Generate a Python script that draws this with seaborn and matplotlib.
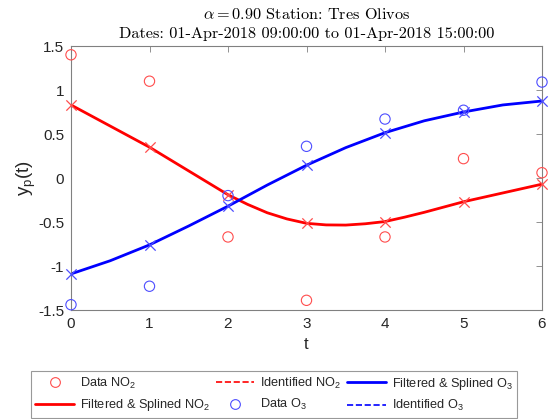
import numpy as np
import pandas as pd
import matplotlib
matplotlib.use("Agg")
import matplotlib.pyplot as plt
import seaborn as sns
from matplotlib.lines import Line2D

# -------------------------------
# Data
# -------------------------------
t_data = [0, 1, 2, 3, 4, 5, 6]
no2_data = [1.40, 1.10, -0.67, -1.39, -0.67, 0.22, 0.06]
o3_data = [-1.44, -1.23, -0.20, 0.36, 0.67, 0.77, 1.09]

no2_ident = [0.83, 0.35, -0.19, -0.515, -0.495, -0.27, -0.07]
o3_ident = [-1.09, -0.76, -0.32, 0.145, 0.515, 0.75, 0.875]

# filtered & splined curves, read at a finer step
t_no2_sp = [0, 0.5, 1, 1.5, 2, 2.25, 2.5, 2.75, 3, 3.25, 3.5, 3.75, 4,
            4.25, 4.5, 4.75, 5, 5.5, 6]
no2_spline = [0.83, 0.59, 0.35, 0.08, -0.19, -0.30, -0.395, -0.465, -0.515,
              -0.533, -0.535, -0.52, -0.495, -0.445, -0.39, -0.33, -0.27,
              -0.17, -0.07]
t_o3_sp = [0, 0.5, 1, 1.5, 2, 2.5, 3, 3.5, 4, 4.5, 5, 5.5, 6]
o3_spline = [-1.09, -0.94, -0.76, -0.545, -0.32, -0.08, 0.145, 0.345, 0.515,
             0.65, 0.75, 0.83, 0.875]

xticks = [0, 1, 2, 3, 4, 5, 6]
yticks = [-1.5, -1, -0.5, 0, 0.5, 1, 1.5]

# -------------------------------
# Setup
# -------------------------------
sns.set_style("white")
plt.rcParams['font.family'] = ['Liberation Sans', 'DejaVu Sans']
plt.rcParams['mathtext.fontset'] = 'custom'
plt.rcParams['mathtext.rm'] = 'Liberation Sans'
plt.rcParams['mathtext.it'] = 'Liberation Sans'

RED = '#ff0000'
BLUE = '#0000ff'
RED_M = '#ff4d4d'
BLUE_M = '#4d4dff'
AX = '#262626'

fig = plt.figure(figsize=(5.49, 4.19), dpi=100)
ax = fig.add_axes([71 / 549, 1 - 310 / 419, 471 / 549, 264 / 419])

df_data = pd.DataFrame({'t': t_data, 'no2': no2_data, 'o3': o3_data})
df_id = pd.DataFrame({'t': t_data, 'no2': no2_ident, 'o3': o3_ident})
df_no2 = pd.DataFrame({'t': t_no2_sp, 'y': no2_spline})
df_o3 = pd.DataFrame({'t': t_o3_sp, 'y': o3_spline})

# filtered & splined
sns.lineplot(data=df_no2, x='t', y='y', ax=ax, color=RED, lw=2)
sns.lineplot(data=df_o3, x='t', y='y', ax=ax, color=BLUE, lw=2)

# identified values at sample times
sns.scatterplot(data=df_id, x='t', y='no2', ax=ax, marker='x', s=55,
                color=RED_M, linewidth=0.9, zorder=5, clip_on=False)
sns.scatterplot(data=df_id, x='t', y='o3', ax=ax, marker='x', s=55,
                color=BLUE_M, linewidth=0.9, zorder=5, clip_on=False)

# raw data
sns.scatterplot(data=df_data, x='t', y='no2', ax=ax, marker='o', s=55,
                facecolors='none', edgecolor=RED_M, linewidth=0.8, zorder=6, clip_on=False)
sns.scatterplot(data=df_data, x='t', y='o3', ax=ax, marker='o', s=55,
                facecolors='none', edgecolor=BLUE_M, linewidth=0.8, zorder=6, clip_on=False)

# -------------------------------
# Axes styling
# -------------------------------
ax.set_xlim(0, 6)
ax.set_ylim(-1.5, 1.5)
ax.set_xticks(xticks)
ax.set_yticks(yticks)
ax.set_xticklabels([f"{v:g}" for v in xticks])
ax.set_yticklabels([f"{v:g}" for v in yticks])
ax.tick_params(direction='in', length=4, width=0.6, colors='#808080',
               labelcolor=AX, labelsize=11, top=True, right=True, pad=5)
for s in ax.spines.values():
    s.set_color('#808080')
    s.set_linewidth(0.8)

ax.set_xlabel('t', fontsize=12, color=AX, labelpad=4)
ax.set_ylabel(r'y$_\mathrm{p}$(t)', fontsize=13.5, color=AX, labelpad=0)

ax.set_title("$\\alpha = 0.90$ Station: Tres Olivos\n"
             "Dates: 01-Apr-2018 09:00:00 to 01-Apr-2018 15:00:00",
             fontfamily='cmr10', math_fontfamily='cm', fontsize=11.7,
             color='black', linespacing=1.45, pad=6)

# -------------------------------
# Legend
# -------------------------------
handles = [
    Line2D([], [], ls='none', marker='o', mfc='none', mec=RED_M, ms=7, mew=0.8),
    Line2D([], [], color=RED, lw=2),
    Line2D([], [], color=RED, lw=1.2, ls='--'),
    Line2D([], [], ls='none', marker='o', mfc='none', mec=BLUE_M, ms=7, mew=0.8),
    Line2D([], [], color=BLUE, lw=2),
    Line2D([], [], color=BLUE, lw=1.2, ls='--'),
]
labels = [r'Data NO$_2$', r'Filtered & Splined NO$_2$', r'Identified NO$_2$',
          r'Data O$_3$', r'Filtered & Splined O$_3$', r'Identified O$_3$']
leg = fig.legend(handles, labels, ncol=3, loc='lower center',
                 bbox_to_anchor=(0.499, 0.0), fontsize=9.2, frameon=True,
                 fancybox=False, edgecolor='#808080', handlelength=3.0,
                 handletextpad=0.45, columnspacing=0.5, labelspacing=0.5,
                 borderpad=0.35, borderaxespad=0.1)
leg.get_frame().set_linewidth(0.8)
for txt in leg.get_texts():
    txt.set_color(AX)

fig.savefig("out.png", dpi=100)
